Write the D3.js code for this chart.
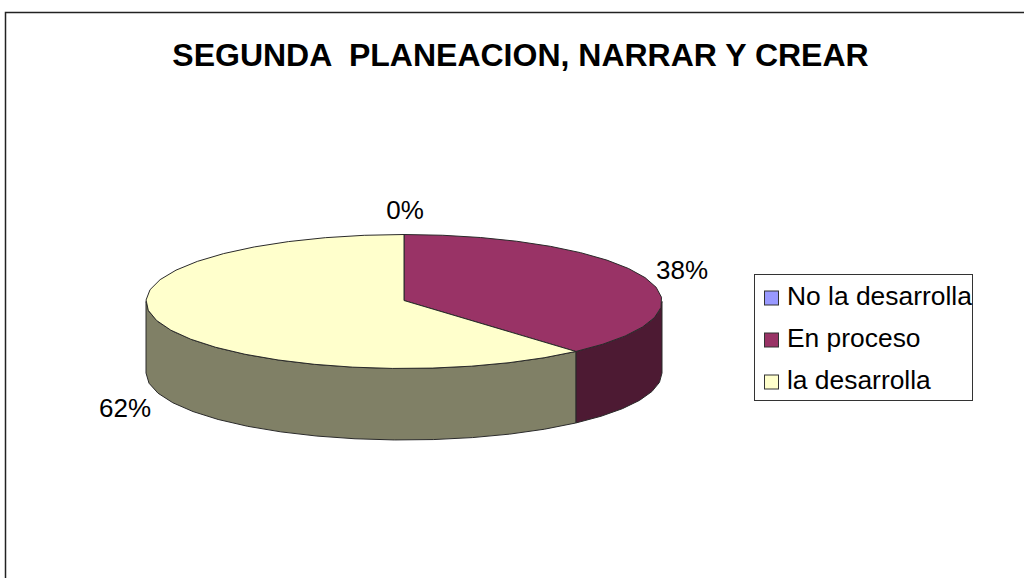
<!DOCTYPE html>
<html><head><meta charset="utf-8">
<script src="https://cdn.jsdelivr.net/npm/d3@7"></script>
<style>html,body{margin:0;padding:0;background:#fff}svg{display:block}text{font-family:"Liberation Sans",Arial,sans-serif;fill:#000}</style>
</head><body><svg id="c" width="1024" height="578"></svg>
<script>
const titleText = "SEGUNDA  PLANEACION, NARRAR Y CREAR";
const categories = ["No la desarrolla", "En proceso", "la desarrolla"];
const values = [0, 38.4, 61.6];
const pctLabels = ["0%", "38%", "62%"];
const topColors = ["#9999ff", "#993366", "#ffffcc"];
const sideColors = ["#4c4c80", "#4d1a33", "#808066"];

const W = 1024, H = 578, cx = 404, cy = 301.5, rx = 258, ry = 67, depth = 71.5, step = Math.PI / 20;
const svg = d3.select("#c");
svg.append("path").attr("d", d3.line()([[5.5, H], [5.5, 12.5], [W, 12.5]])).attr("fill", "none").attr("stroke", "#222").attr("stroke-width", 1.5);
svg.append("text").attr("x", 520.5).attr("y", 65.5).attr("text-anchor", "middle").attr("font-size", 32).attr("font-weight", "bold").attr("xml:space", "preserve").style("white-space", "pre").text(titleText);

const arcs = d3.pie().sort(null).value(d => d)(values);
const px = a => cx + rx * Math.sin(a), py = a => cy - ry * Math.cos(a);
const samples = (a0, a1) => { const n = Math.max(1, Math.ceil((a1 - a0) / step)); return d3.range(n + 1).map(i => a0 + (a1 - a0) * i / n); };
const line = d3.line();
const stroke = "#2a2a2a";

arcs.forEach((d, i) => {
  const a0 = Math.max(d.startAngle, Math.PI / 2), a1 = Math.min(d.endAngle, Math.PI * 1.5);
  if (a1 <= a0) return;
  const s = samples(a0, a1);
  const pts = s.map(a => [px(a), py(a)]).concat(s.slice().reverse().map(a => [px(a), py(a) + depth]));
  svg.append("path").attr("d", line(pts) + "Z").attr("fill", sideColors[i]).attr("stroke", stroke).attr("stroke-width", 1);
});
arcs.forEach((d, i) => {
  if (d.endAngle <= d.startAngle) return;
  const pts = [[cx, cy - 1]].concat(samples(d.startAngle, d.endAngle).map(a => [px(a), py(a)]));
  svg.append("path").attr("d", line(pts) + "Z").attr("fill", topColors[i]).attr("stroke", stroke).attr("stroke-width", 1);
});
const labelPos = [[405, 219], [682, 279], [125, 417]];
pctLabels.forEach((t, i) => svg.append("text").attr("x", labelPos[i][0]).attr("y", labelPos[i][1]).attr("text-anchor", "middle").attr("font-size", 26).text(t));

svg.append("rect").attr("x", 754.5).attr("y", 274.5).attr("width", 218).attr("height", 126).attr("fill", "#fff").attr("stroke", "#333").attr("stroke-width", 1);
const rowY = d3.scalePoint().domain(categories).range([298, 382]);
categories.forEach((c, i) => {
  const y = rowY(c);
  svg.append("rect").attr("x", 764.5).attr("y", y - 7).attr("width", 14).attr("height", 14).attr("fill", topColors[i]).attr("stroke", "#333").attr("stroke-width", 1);
  svg.append("text").attr("x", 787).attr("y", y + 7).attr("font-size", 26.4).text(c);
});
</script></body></html>
